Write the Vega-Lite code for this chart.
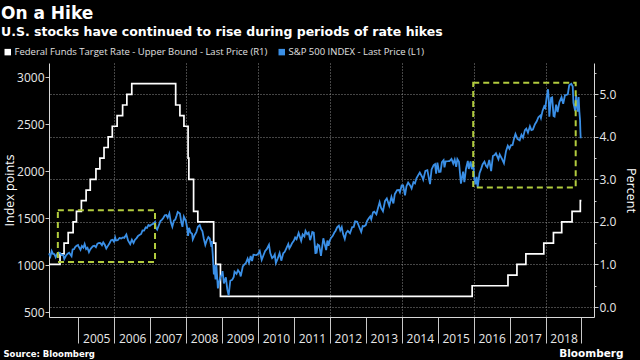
{
  "$schema": "https://vega.github.io/schema/vega-lite/v6.json",
  "autosize": "none",
  "width": 545,
  "height": 254,
  "padding": {"left": 49, "top": 63, "right": 46, "bottom": 43},
  "background": "#000000",
  "config": {"view": {"stroke": null}},
  "title": {
    "text": "On a Hike",
    "subtitle": "U.S. stocks have continued to rise during periods of rate hikes",
    "anchor": "start", "frame": "group", "dx": -48, "offset": 7.5,
    "font": "DejaVu Sans", "fontSize": 17, "fontWeight": "bold", "color": "#ffffff",
    "subtitleFont": "DejaVu Sans", "subtitleFontSize": 12.5, "subtitleFontWeight": "bold", "subtitleColor": "#ffffff",
    "subtitlePadding": 3
  },
  "datasets": {
    "spx": [
      {"date": "2004-03-10", "v": 1124}, {"date": "2004-03-24", "v": 1091}, {"date": "2004-04-06", "v": 1150}, {"date": "2004-04-20", "v": 1118},
      {"date": "2004-05-03", "v": 1117}, {"date": "2004-05-17", "v": 1084}, {"date": "2004-06-01", "v": 1121}, {"date": "2004-06-15", "v": 1133},
      {"date": "2004-07-01", "v": 1128}, {"date": "2004-07-15", "v": 1107}, {"date": "2004-08-02", "v": 1106}, {"date": "2004-08-12", "v": 1064},
      {"date": "2004-09-01", "v": 1105}, {"date": "2004-09-15", "v": 1120}, {"date": "2004-10-01", "v": 1131}, {"date": "2004-10-25", "v": 1095},
      {"date": "2004-11-05", "v": 1167}, {"date": "2004-11-19", "v": 1170}, {"date": "2004-12-01", "v": 1191}, {"date": "2004-12-15", "v": 1206},
      {"date": "2004-12-30", "v": 1213},
      {"date": "2005-01-03", "v": 1202}, {"date": "2005-01-24", "v": 1163}, {"date": "2005-02-07", "v": 1203}, {"date": "2005-02-22", "v": 1185},
      {"date": "2005-03-07", "v": 1225}, {"date": "2005-03-22", "v": 1171}, {"date": "2005-04-05", "v": 1184}, {"date": "2005-04-20", "v": 1137},
      {"date": "2005-05-03", "v": 1166}, {"date": "2005-05-17", "v": 1185}, {"date": "2005-06-01", "v": 1202}, {"date": "2005-06-15", "v": 1206},
      {"date": "2005-06-30", "v": 1191}, {"date": "2005-07-15", "v": 1227}, {"date": "2005-08-01", "v": 1235}, {"date": "2005-08-15", "v": 1233},
      {"date": "2005-08-30", "v": 1212}, {"date": "2005-09-12", "v": 1241}, {"date": "2005-09-28", "v": 1216}, {"date": "2005-10-13", "v": 1177},
      {"date": "2005-10-31", "v": 1207}, {"date": "2005-11-15", "v": 1233}, {"date": "2005-12-01", "v": 1265}, {"date": "2005-12-15", "v": 1270},
      {"date": "2005-12-30", "v": 1248},
      {"date": "2006-01-11", "v": 1295}, {"date": "2006-01-20", "v": 1262}, {"date": "2006-02-06", "v": 1265}, {"date": "2006-02-24", "v": 1289},
      {"date": "2006-03-13", "v": 1284}, {"date": "2006-03-31", "v": 1295}, {"date": "2006-04-14", "v": 1290}, {"date": "2006-05-05", "v": 1325},
      {"date": "2006-05-22", "v": 1262}, {"date": "2006-06-13", "v": 1223}, {"date": "2006-06-30", "v": 1270}, {"date": "2006-07-17", "v": 1236},
      {"date": "2006-08-01", "v": 1270}, {"date": "2006-08-15", "v": 1285}, {"date": "2006-09-01", "v": 1311}, {"date": "2006-09-15", "v": 1320},
      {"date": "2006-10-02", "v": 1331}, {"date": "2006-10-16", "v": 1369}, {"date": "2006-11-01", "v": 1367}, {"date": "2006-11-17", "v": 1401},
      {"date": "2006-12-01", "v": 1396}, {"date": "2006-12-15", "v": 1427}, {"date": "2006-12-29", "v": 1418},
      {"date": "2007-01-12", "v": 1430}, {"date": "2007-01-31", "v": 1438}, {"date": "2007-02-20", "v": 1459}, {"date": "2007-02-27", "v": 1399},
      {"date": "2007-03-14", "v": 1377}, {"date": "2007-03-30", "v": 1421}, {"date": "2007-04-16", "v": 1468}, {"date": "2007-04-30", "v": 1482},
      {"date": "2007-05-15", "v": 1501}, {"date": "2007-05-31", "v": 1531}, {"date": "2007-06-15", "v": 1533}, {"date": "2007-06-29", "v": 1503},
      {"date": "2007-07-16", "v": 1550}, {"date": "2007-07-31", "v": 1455}, {"date": "2007-08-15", "v": 1407}, {"date": "2007-08-31", "v": 1474},
      {"date": "2007-09-14", "v": 1484}, {"date": "2007-09-28", "v": 1527}, {"date": "2007-10-09", "v": 1565}, {"date": "2007-10-31", "v": 1549},
      {"date": "2007-11-15", "v": 1452}, {"date": "2007-11-26", "v": 1407}, {"date": "2007-12-10", "v": 1515}, {"date": "2007-12-31", "v": 1468},
      {"date": "2008-01-15", "v": 1380}, {"date": "2008-01-22", "v": 1310}, {"date": "2008-02-01", "v": 1396}, {"date": "2008-02-15", "v": 1349},
      {"date": "2008-03-03", "v": 1331}, {"date": "2008-03-10", "v": 1273}, {"date": "2008-03-31", "v": 1323}, {"date": "2008-04-15", "v": 1351},
      {"date": "2008-05-01", "v": 1409}, {"date": "2008-05-19", "v": 1426}, {"date": "2008-06-02", "v": 1385}, {"date": "2008-06-16", "v": 1360},
      {"date": "2008-06-30", "v": 1280}, {"date": "2008-07-15", "v": 1215}, {"date": "2008-07-31", "v": 1267}, {"date": "2008-08-15", "v": 1298},
      {"date": "2008-08-29", "v": 1283}, {"date": "2008-09-15", "v": 1193}, {"date": "2008-09-19", "v": 1255}, {"date": "2008-09-29", "v": 1106},
      {"date": "2008-10-10", "v": 899}, {"date": "2008-10-13", "v": 1003}, {"date": "2008-10-27", "v": 848}, {"date": "2008-11-04", "v": 1006},
      {"date": "2008-11-20", "v": 752}, {"date": "2008-12-01", "v": 816}, {"date": "2008-12-15", "v": 869}, {"date": "2008-12-31", "v": 903},
      {"date": "2009-01-06", "v": 935}, {"date": "2009-01-20", "v": 805}, {"date": "2009-02-09", "v": 870}, {"date": "2009-02-23", "v": 743},
      {"date": "2009-03-09", "v": 677}, {"date": "2009-03-26", "v": 833}, {"date": "2009-04-14", "v": 842}, {"date": "2009-04-30", "v": 873},
      {"date": "2009-05-08", "v": 929}, {"date": "2009-05-28", "v": 907}, {"date": "2009-06-12", "v": 946}, {"date": "2009-06-30", "v": 919},
      {"date": "2009-07-10", "v": 879}, {"date": "2009-07-31", "v": 987}, {"date": "2009-08-14", "v": 1004}, {"date": "2009-08-31", "v": 1021},
      {"date": "2009-09-18", "v": 1068}, {"date": "2009-10-02", "v": 1025}, {"date": "2009-10-19", "v": 1097}, {"date": "2009-11-02", "v": 1042},
      {"date": "2009-11-16", "v": 1110}, {"date": "2009-12-01", "v": 1108}, {"date": "2009-12-15", "v": 1107}, {"date": "2009-12-31", "v": 1115},
      {"date": "2010-01-19", "v": 1150}, {"date": "2010-02-08", "v": 1056}, {"date": "2010-02-25", "v": 1102}, {"date": "2010-03-15", "v": 1150},
      {"date": "2010-03-31", "v": 1169}, {"date": "2010-04-23", "v": 1217}, {"date": "2010-05-06", "v": 1128}, {"date": "2010-05-25", "v": 1074},
      {"date": "2010-06-11", "v": 1092}, {"date": "2010-06-21", "v": 1113}, {"date": "2010-07-02", "v": 1022}, {"date": "2010-07-21", "v": 1070},
      {"date": "2010-08-09", "v": 1128}, {"date": "2010-08-26", "v": 1047}, {"date": "2010-09-15", "v": 1126}, {"date": "2010-09-30", "v": 1141},
      {"date": "2010-10-15", "v": 1176}, {"date": "2010-11-05", "v": 1225}, {"date": "2010-11-16", "v": 1178}, {"date": "2010-12-01", "v": 1206},
      {"date": "2010-12-15", "v": 1236}, {"date": "2010-12-31", "v": 1258},
      {"date": "2011-01-14", "v": 1293}, {"date": "2011-01-28", "v": 1276}, {"date": "2011-02-18", "v": 1343}, {"date": "2011-03-01", "v": 1306},
      {"date": "2011-03-16", "v": 1257}, {"date": "2011-03-31", "v": 1326}, {"date": "2011-04-18", "v": 1305}, {"date": "2011-04-29", "v": 1364},
      {"date": "2011-05-16", "v": 1329}, {"date": "2011-05-31", "v": 1345}, {"date": "2011-06-15", "v": 1265}, {"date": "2011-06-30", "v": 1321},
      {"date": "2011-07-07", "v": 1353}, {"date": "2011-07-22", "v": 1346}, {"date": "2011-08-08", "v": 1119}, {"date": "2011-08-15", "v": 1204},
      {"date": "2011-08-19", "v": 1124}, {"date": "2011-08-31", "v": 1219}, {"date": "2011-09-15", "v": 1209}, {"date": "2011-10-03", "v": 1099},
      {"date": "2011-10-27", "v": 1285}, {"date": "2011-11-09", "v": 1229}, {"date": "2011-11-25", "v": 1159}, {"date": "2011-12-07", "v": 1261},
      {"date": "2011-12-19", "v": 1206}, {"date": "2011-12-30", "v": 1258},
      {"date": "2012-01-13", "v": 1289}, {"date": "2012-01-31", "v": 1312}, {"date": "2012-02-15", "v": 1344}, {"date": "2012-02-29", "v": 1366},
      {"date": "2012-03-15", "v": 1402}, {"date": "2012-04-02", "v": 1419}, {"date": "2012-04-16", "v": 1370}, {"date": "2012-05-01", "v": 1405},
      {"date": "2012-05-15", "v": 1330}, {"date": "2012-06-01", "v": 1278}, {"date": "2012-06-15", "v": 1343}, {"date": "2012-07-02", "v": 1365},
      {"date": "2012-07-24", "v": 1338}, {"date": "2012-08-15", "v": 1405}, {"date": "2012-08-31", "v": 1407}, {"date": "2012-09-14", "v": 1465},
      {"date": "2012-10-05", "v": 1461}, {"date": "2012-10-23", "v": 1413}, {"date": "2012-11-15", "v": 1353}, {"date": "2012-11-30", "v": 1416},
      {"date": "2012-12-14", "v": 1413}, {"date": "2012-12-31", "v": 1426},
      {"date": "2013-01-15", "v": 1472}, {"date": "2013-01-31", "v": 1498}, {"date": "2013-02-15", "v": 1519}, {"date": "2013-02-25", "v": 1488},
      {"date": "2013-03-15", "v": 1561}, {"date": "2013-03-28", "v": 1569}, {"date": "2013-04-18", "v": 1541}, {"date": "2013-05-02", "v": 1598},
      {"date": "2013-05-21", "v": 1669}, {"date": "2013-06-05", "v": 1608}, {"date": "2013-06-24", "v": 1573}, {"date": "2013-07-15", "v": 1683},
      {"date": "2013-08-02", "v": 1710}, {"date": "2013-08-27", "v": 1631}, {"date": "2013-09-18", "v": 1725}, {"date": "2013-10-08", "v": 1656},
      {"date": "2013-10-22", "v": 1755}, {"date": "2013-11-15", "v": 1798}, {"date": "2013-12-02", "v": 1800}, {"date": "2013-12-13", "v": 1775},
      {"date": "2013-12-31", "v": 1848},
      {"date": "2014-01-15", "v": 1848}, {"date": "2014-02-03", "v": 1742}, {"date": "2014-02-18", "v": 1840}, {"date": "2014-03-07", "v": 1878},
      {"date": "2014-03-27", "v": 1849}, {"date": "2014-04-11", "v": 1815}, {"date": "2014-04-30", "v": 1884}, {"date": "2014-05-15", "v": 1870},
      {"date": "2014-05-30", "v": 1924}, {"date": "2014-06-20", "v": 1963}, {"date": "2014-07-03", "v": 1985}, {"date": "2014-07-31", "v": 1931},
      {"date": "2014-08-07", "v": 1910}, {"date": "2014-08-29", "v": 2003}, {"date": "2014-09-18", "v": 2011}, {"date": "2014-10-15", "v": 1862},
      {"date": "2014-10-31", "v": 2018}, {"date": "2014-11-21", "v": 2064}, {"date": "2014-12-05", "v": 2075}, {"date": "2014-12-16", "v": 1973},
      {"date": "2014-12-29", "v": 2091},
      {"date": "2015-01-15", "v": 1992}, {"date": "2015-01-30", "v": 1995}, {"date": "2015-02-13", "v": 2097}, {"date": "2015-03-02", "v": 2117},
      {"date": "2015-03-11", "v": 2040}, {"date": "2015-03-23", "v": 2104}, {"date": "2015-04-15", "v": 2106}, {"date": "2015-05-01", "v": 2108},
      {"date": "2015-05-21", "v": 2131}, {"date": "2015-06-08", "v": 2080}, {"date": "2015-06-23", "v": 2124}, {"date": "2015-07-08", "v": 2047},
      {"date": "2015-07-20", "v": 2128}, {"date": "2015-08-05", "v": 2100}, {"date": "2015-08-25", "v": 1868}, {"date": "2015-09-16", "v": 1996},
      {"date": "2015-09-29", "v": 1884}, {"date": "2015-10-15", "v": 2023}, {"date": "2015-11-03", "v": 2110}, {"date": "2015-11-13", "v": 2023},
      {"date": "2015-12-01", "v": 2103}, {"date": "2015-12-14", "v": 2021}, {"date": "2015-12-29", "v": 2078},
      {"date": "2016-01-08", "v": 1922}, {"date": "2016-01-20", "v": 1859}, {"date": "2016-02-01", "v": 1940}, {"date": "2016-02-11", "v": 1829},
      {"date": "2016-03-01", "v": 1978}, {"date": "2016-03-15", "v": 2016}, {"date": "2016-04-01", "v": 2072}, {"date": "2016-04-20", "v": 2102},
      {"date": "2016-05-06", "v": 2057}, {"date": "2016-05-19", "v": 2040}, {"date": "2016-06-08", "v": 2119}, {"date": "2016-06-27", "v": 2001},
      {"date": "2016-07-15", "v": 2162}, {"date": "2016-08-01", "v": 2171}, {"date": "2016-08-15", "v": 2190}, {"date": "2016-09-09", "v": 2128},
      {"date": "2016-09-22", "v": 2177}, {"date": "2016-10-14", "v": 2133}, {"date": "2016-11-04", "v": 2085}, {"date": "2016-11-25", "v": 2213},
      {"date": "2016-12-13", "v": 2271}, {"date": "2016-12-30", "v": 2239},
      {"date": "2017-01-13", "v": 2275}, {"date": "2017-01-31", "v": 2279}, {"date": "2017-02-15", "v": 2349}, {"date": "2017-03-01", "v": 2396},
      {"date": "2017-03-21", "v": 2344}, {"date": "2017-04-13", "v": 2329}, {"date": "2017-05-01", "v": 2388}, {"date": "2017-05-17", "v": 2357},
      {"date": "2017-06-05", "v": 2437}, {"date": "2017-06-19", "v": 2453}, {"date": "2017-07-06", "v": 2410}, {"date": "2017-07-26", "v": 2478},
      {"date": "2017-08-10", "v": 2438}, {"date": "2017-08-25", "v": 2443}, {"date": "2017-09-15", "v": 2500}, {"date": "2017-10-02", "v": 2529},
      {"date": "2017-10-20", "v": 2575}, {"date": "2017-11-07", "v": 2591}, {"date": "2017-11-15", "v": 2565}, {"date": "2017-12-01", "v": 2642},
      {"date": "2017-12-18", "v": 2690}, {"date": "2017-12-29", "v": 2674},
      {"date": "2018-01-12", "v": 2786}, {"date": "2018-01-26", "v": 2873}, {"date": "2018-02-02", "v": 2762}, {"date": "2018-02-08", "v": 2581},
      {"date": "2018-02-26", "v": 2780}, {"date": "2018-03-09", "v": 2786}, {"date": "2018-03-23", "v": 2588}, {"date": "2018-04-02", "v": 2582},
      {"date": "2018-04-18", "v": 2708}, {"date": "2018-05-03", "v": 2630}, {"date": "2018-05-21", "v": 2733}, {"date": "2018-06-12", "v": 2787},
      {"date": "2018-06-29", "v": 2718}, {"date": "2018-07-17", "v": 2809}, {"date": "2018-08-01", "v": 2813}, {"date": "2018-08-15", "v": 2818},
      {"date": "2018-08-29", "v": 2914}, {"date": "2018-09-20", "v": 2931}, {"date": "2018-10-04", "v": 2902}, {"date": "2018-10-11", "v": 2728},
      {"date": "2018-10-29", "v": 2641}, {"date": "2018-11-07", "v": 2814}, {"date": "2018-11-23", "v": 2633}, {"date": "2018-12-03", "v": 2790},
      {"date": "2018-12-10", "v": 2637}, {"date": "2018-12-17", "v": 2546}, {"date": "2018-12-21", "v": 2417}, {"date": "2018-12-24", "v": 2351}
    ],
    "fed": [
      {"date": "2004-03-10", "r": 1.00}, {"date": "2004-06-30", "r": 1.25}, {"date": "2004-08-10", "r": 1.50}, {"date": "2004-09-21", "r": 1.75},
      {"date": "2004-11-10", "r": 2.00}, {"date": "2004-12-14", "r": 2.25}, {"date": "2005-02-02", "r": 2.50}, {"date": "2005-03-22", "r": 2.75},
      {"date": "2005-05-03", "r": 3.00}, {"date": "2005-06-30", "r": 3.25}, {"date": "2005-08-09", "r": 3.50}, {"date": "2005-09-20", "r": 3.75},
      {"date": "2005-11-01", "r": 4.00}, {"date": "2005-12-13", "r": 4.25}, {"date": "2006-01-31", "r": 4.50}, {"date": "2006-03-28", "r": 4.75},
      {"date": "2006-05-10", "r": 5.00}, {"date": "2006-06-29", "r": 5.25}, {"date": "2007-09-18", "r": 4.75}, {"date": "2007-10-31", "r": 4.50},
      {"date": "2007-12-11", "r": 4.25}, {"date": "2008-01-22", "r": 3.50}, {"date": "2008-01-30", "r": 3.00}, {"date": "2008-03-18", "r": 2.25},
      {"date": "2008-04-30", "r": 2.00}, {"date": "2008-10-08", "r": 1.50}, {"date": "2008-10-29", "r": 1.00}, {"date": "2008-12-16", "r": 0.25},
      {"date": "2015-12-17", "r": 0.50}, {"date": "2016-12-15", "r": 0.75}, {"date": "2017-03-16", "r": 1.00}, {"date": "2017-06-15", "r": 1.25},
      {"date": "2017-12-14", "r": 1.50}, {"date": "2018-03-22", "r": 1.75}, {"date": "2018-06-14", "r": 2.00}, {"date": "2018-09-27", "r": 2.25},
      {"date": "2018-12-20", "r": 2.50}, {"date": "2018-12-31", "r": 2.50}
    ],
    "boxes": [
      {"start": "2004-06-08", "end": "2007-02-20", "top": 1585, "bottom": 1033},
      {"start": "2015-12-28", "end": "2018-11-03", "top": 2942, "bottom": 1827}
    ]
  },
  "resolve": {"scale": {"y": "independent"}, "axis": {"x": "independent", "y": "independent"}},
  "layer": [
    {
      "data": {"name": "fed"},
      "mark": {"type": "line", "interpolate": "step-after", "strokeWidth": 1.7},
      "encoding": {
        "x": {
          "field": "date", "type": "temporal",
          "scale": {"domain": [{"year": 2004, "month": 3, "date": 10}, {"year": 2019, "month": 5, "date": 8}]},
          "axis": {
            "orient": "bottom",
            "values": [
              {"year": 2005, "month": 1, "date": 1}, {"year": 2006, "month": 1, "date": 1}, {"year": 2007, "month": 1, "date": 1},
              {"year": 2008, "month": 1, "date": 1}, {"year": 2009, "month": 1, "date": 1}, {"year": 2010, "month": 1, "date": 1},
              {"year": 2011, "month": 1, "date": 1}, {"year": 2012, "month": 1, "date": 1}, {"year": 2013, "month": 1, "date": 1},
              {"year": 2014, "month": 1, "date": 1}, {"year": 2015, "month": 1, "date": 1}, {"year": 2016, "month": 1, "date": 1},
              {"year": 2017, "month": 1, "date": 1}, {"year": 2018, "month": 1, "date": 1}, {"year": 2019, "month": 1, "date": 1}
            ],
            "labelExpr": "year(datum.value) >= 2019 ? '' : timeFormat(datum.value, '%Y')",
            "labelOffset": 18, "labelAlign": "center", "labelBaseline": "middle", "labelPadding": -5,
            "labelOverlap": false, "labelFlush": false, "labelBound": false,
            "labelFont": "Open Sans", "labelFontSize": 12, "labelColor": "#e8e8e8",
            "tickSize": 26, "tickColor": "#c8c8c8", "tickWidth": 1,
            "domainColor": "#d8d8d8", "domainWidth": 1,
            "grid": true, "gridColor": "#9a9a9a", "gridDash": [1, 2],
            "gridOpacity": {"condition": {"test": "year(datum.value) % 2 == 0", "value": 0.9}, "value": 0},
            "title": "Source: Bloomberg", "titleX": -46, "titleY": 36, "titleAlign": "left", "titleBaseline": "middle",
            "titleFont": "DejaVu Sans", "titleFontSize": 8.5, "titleFontWeight": "bold", "titleColor": "#ffffff"
          }
        },
        "y": {
          "field": "r", "type": "quantitative",
          "scale": {"domain": [-0.235, 5.737], "nice": false, "zero": false},
          "axis": {
            "orient": "right",
            "values": [0, 0.5, 1, 1.5, 2, 2.5, 3, 3.5, 4, 4.5, 5, 5.5],
            "labelExpr": "datum.value % 1 == 0 ? format(datum.value, '.1f') : ''",
            "labelFont": "Open Sans", "labelFontSize": 12, "labelColor": "#e8e8e8", "labelPadding": 1,
            "tickSize": {"condition": {"test": "datum.value % 1 != 0", "value": 2}, "value": 4},
            "tickColor": "#c8c8c8", "domainColor": "#d8d8d8",
            "grid": true, "gridColor": "#9a9a9a", "gridDash": [1, 2],
            "gridOpacity": {"condition": {"test": "datum.value % 1 == 0", "value": 0.9}, "value": 0},
            "title": "Percent", "titleFont": "Open Sans", "titleFontSize": 12.5, "titleFontWeight": "normal", "titleColor": "#ffffff", "titlePadding": 8
          }
        },
        "color": {
          "datum": "Federal Funds Target Rate - Upper Bound - Last Price (R1)",
          "scale": {
            "domain": ["Federal Funds Target Rate - Upper Bound - Last Price (R1)", "S&P 500 INDEX - Last Price (L1)"],
            "range": ["#ffffff", "#3a8fe6"]
          },
          "legend": {
            "orient": "none", "legendX": -46, "legendY": -16, "direction": "horizontal", "title": null,
            "symbolType": "square", "symbolSize": 42, "symbolStrokeWidth": 0,
            "labelFont": "Open Sans", "labelFontSize": 9.5, "labelColor": "#e0e0e0", "labelLimit": 400, "labelOffset": 2,
            "columnPadding": 9,
            "encode": {"symbols": {"update": {"fill": {"scale": "color", "field": "value"}, "strokeWidth": {"value": 0}}}}
          }
        }
      }
    },
    {
      "layer": [
        {
          "data": {"name": "spx"},
          "mark": {"type": "line", "strokeWidth": 1.8},
          "encoding": {
            "x": {
              "field": "date", "type": "temporal",
              "scale": {"domain": [{"year": 2004, "month": 3, "date": 10}, {"year": 2019, "month": 5, "date": 8}]},
              "axis": {
                "orient": "bottom", "domain": false, "ticks": false, "labels": false, "grid": false,
                "title": "Bloomberg", "titleX": 574, "titleY": 36, "titleAlign": "right", "titleBaseline": "middle",
                "titleFont": "DejaVu Sans", "titleFontSize": 10.5, "titleFontWeight": "bold", "titleColor": "#ffffff"
              }
            },
            "y": {
              "field": "v", "type": "quantitative",
              "scale": {"domain": [447, 3152], "nice": false, "zero": false},
              "axis": {
                "orient": "left",
                "values": [500, 750, 1000, 1250, 1500, 1750, 2000, 2250, 2500, 2750, 3000],
                "labelExpr": "datum.value % 500 == 0 ? format(datum.value, 'd') : ''",
                "labelFont": "Open Sans", "labelFontSize": 12, "labelColor": "#e8e8e8", "labelPadding": 1,
                "tickSize": {"condition": {"test": "datum.value % 500 != 0", "value": 2}, "value": 4},
                "tickColor": "#c8c8c8", "domainColor": "#d8d8d8", "grid": false,
                "title": "Index points", "titleFont": "Open Sans", "titleFontSize": 12.5, "titleFontWeight": "normal", "titleColor": "#ffffff", "titlePadding": 0
              }
            },
            "color": {"datum": "S&P 500 INDEX - Last Price (L1)"}
          }
        },
        {
          "data": {"name": "boxes"},
          "mark": {"type": "rect", "fill": null, "fillOpacity": 0, "stroke": "#b2cc3e", "strokeWidth": 2, "strokeDash": [6, 4]},
          "encoding": {
            "x": {"field": "start", "type": "temporal"},
            "x2": {"field": "end"},
            "y": {"field": "top", "type": "quantitative"},
            "y2": {"field": "bottom"}
          }
        }
      ]
    }
  ]
}
